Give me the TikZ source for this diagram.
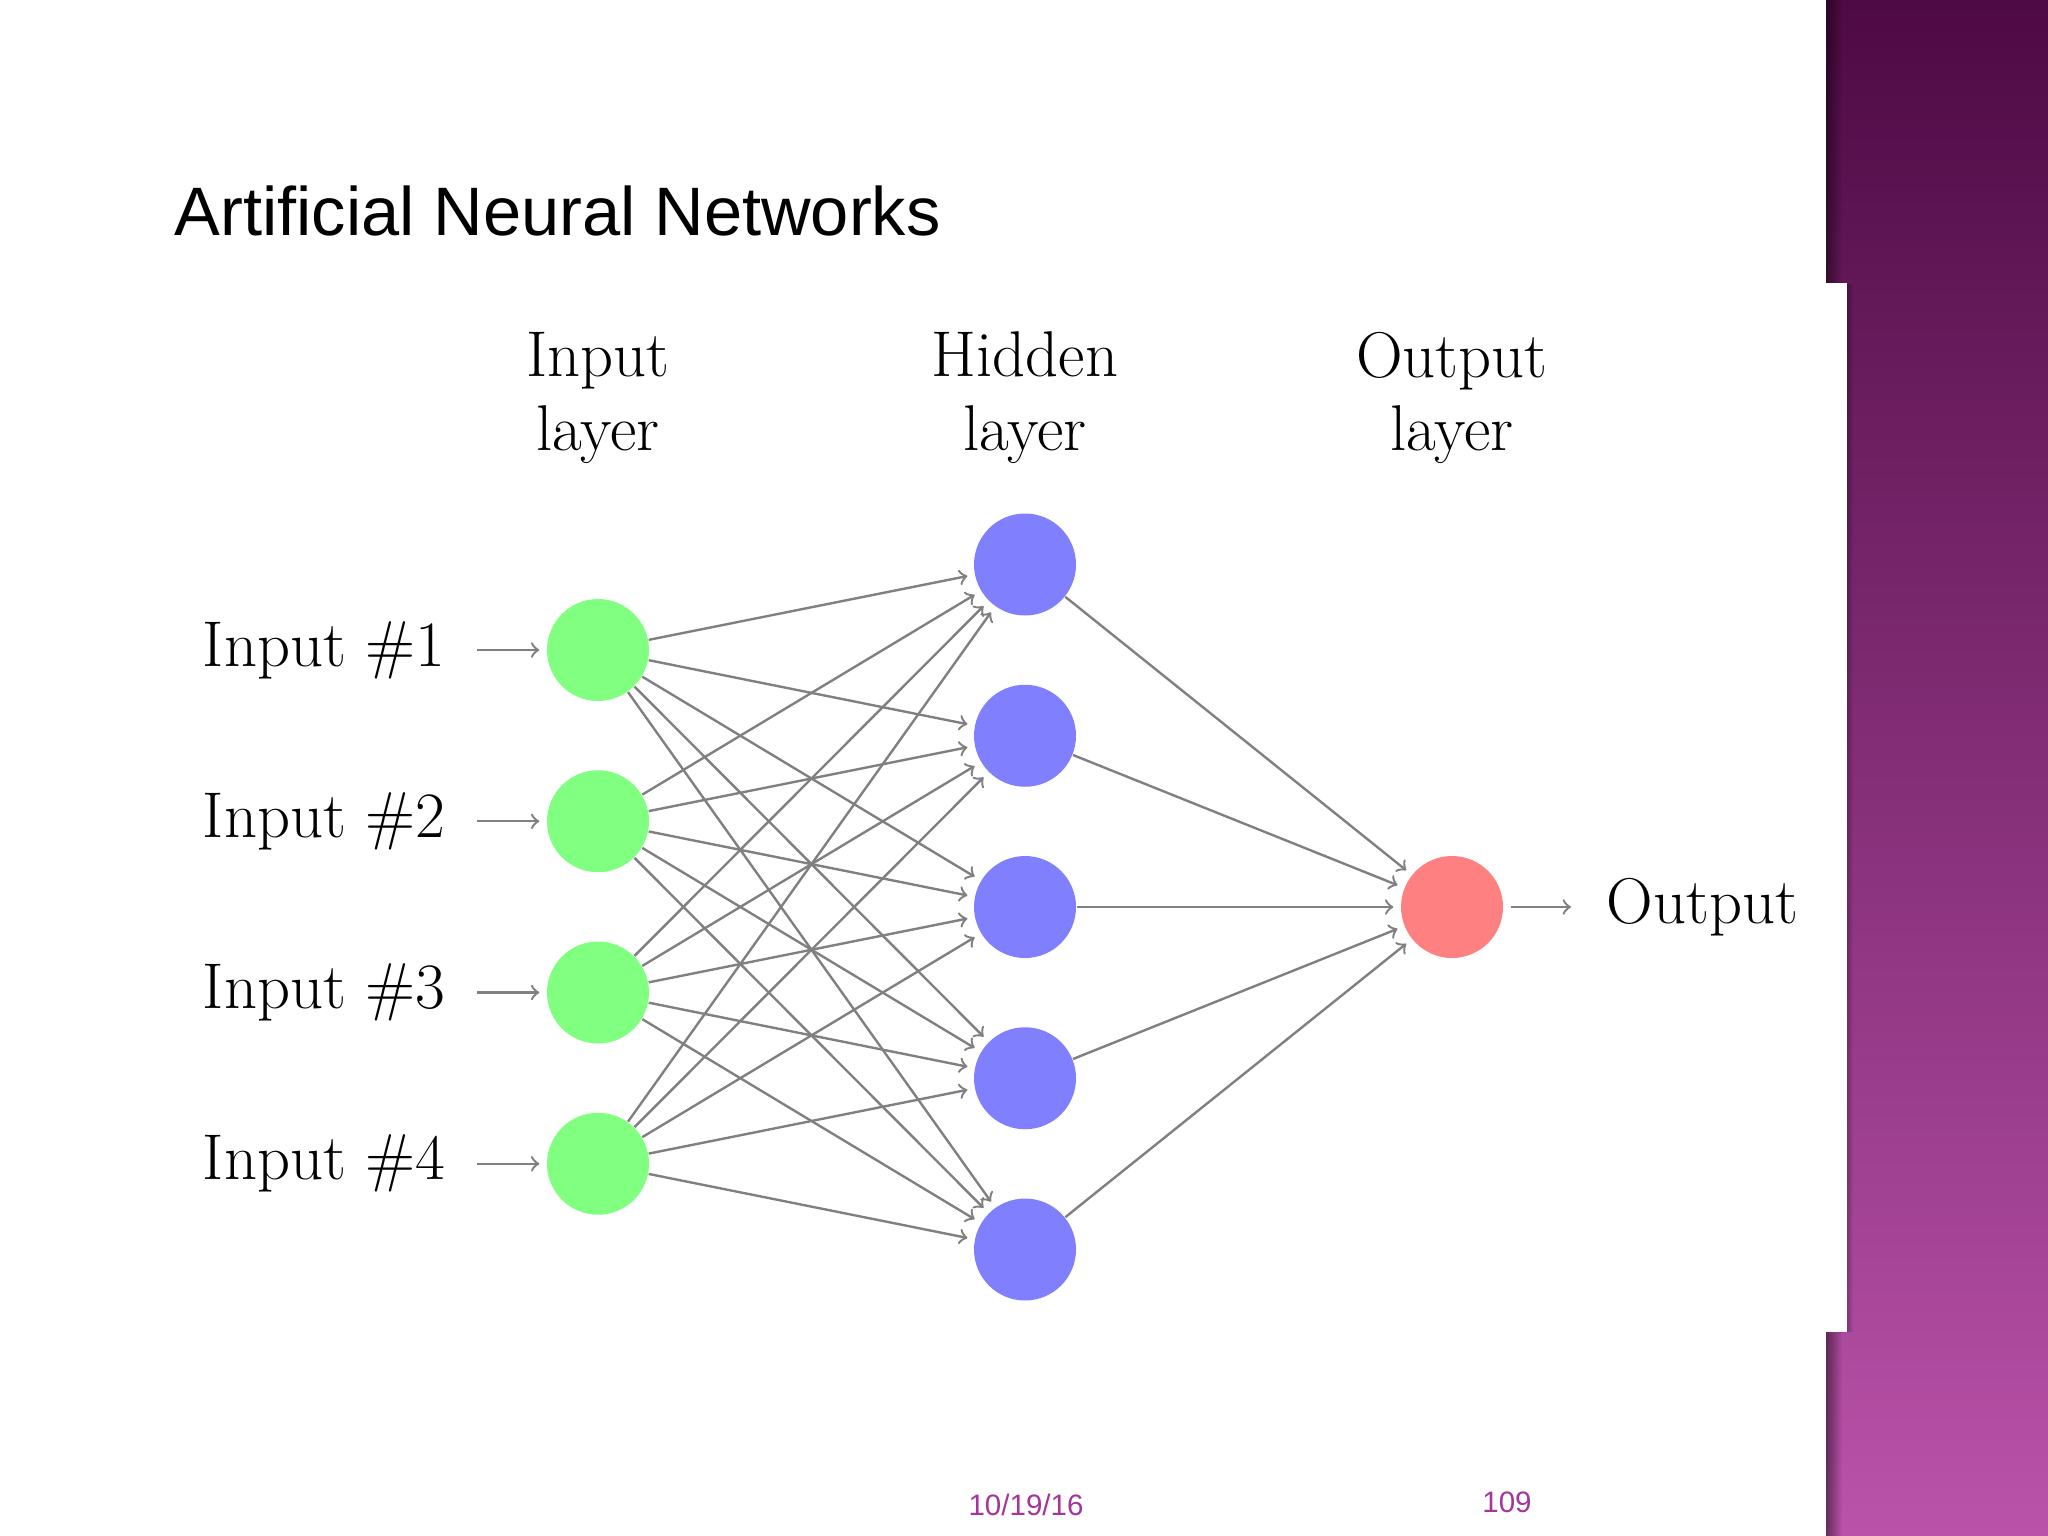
\documentclass[tikz,border=0pt]{standalone}
\usepackage{fontspec}
\newfontfamily\slidesans{Liberation Sans}
\usetikzlibrary{fadings}
\definecolor{PanelTop}{RGB}{78, 10, 68}
\definecolor{PanelMid}{RGB}{140, 56, 126}
\definecolor{PanelBottom}{RGB}{186, 82, 170}
\definecolor{FooterPurple}{RGB}{163, 53, 155}

\begin{document}
\begin{tikzpicture}[x=0.01cm, y=-0.01cm,
    neuron/.style={circle, minimum size=29pt, inner sep=0pt},
    input neuron/.style={neuron, fill=green!50},
    hidden neuron/.style={neuron, fill=blue!50},
    output neuron/.style={neuron, fill=red!50},
    synapse/.style={draw=black!50, line width=0.68pt, ->, shorten >=2pt},
    netfont/.style={font=\fontsize{18.4}{21}\selectfont},
    annot/.style={netfont, align=center, inner sep=0pt},
    footer/.style={FooterPurple, font=\slidesans\fontsize{8.4}{10}\selectfont, inner sep=0pt, anchor=base}]
      \useasboundingbox (0,0) rectangle (2048,1536);
      % Slide background
      \fill[white] (0,0) rectangle (2048,1536);
      % Side panel
      \shade[top color=PanelTop, middle color=PanelMid, bottom color=PanelBottom] (1826,0) rectangle (2048,1536);
      \fill[black, opacity=0.45, path fading=east] (1826,0) rectangle (1842,283);
      \fill[black, opacity=0.45, path fading=east] (1826,1332) rectangle (1842,1536);
      \fill[white] (1826,283) rectangle (1847,1332);
      \fill[black, opacity=0.25, path fading=east] (1847,283) rectangle (1853,1332);
      % Title
      \node[anchor=base west, inner sep=0pt, font=\slidesans\fontsize{19.5}{23}\selectfont] (title) at (174,235) {Artificial Neural Networks};
      % Input layer
      \foreach \n in {1,...,4} {
        \pgfmathsetmacro\yy{650+(\n-1)*171.25}
        \node[input neuron] (I-\n) at (598,\yy) {};
        \node[netfont, anchor=east, inner xsep=8.8pt] (in-\n) at (477,\yy) {Input \#\n};
        \draw[synapse] (in-\n) -- (I-\n);
      }
      % Hidden layer
      \foreach \n in {1,...,5} {
        \pgfmathsetmacro\yy{564.5+(\n-1)*171.25}
        \node[hidden neuron] (H-\n) at (1025,\yy) {};
      }
      % Output layer
      \node[output neuron] (O) at (1452,907) {};
      \node[netfont, anchor=west, inner xsep=8pt] (out) at (1578,907) {Output};
      \draw[synapse, shorten <=2pt] (O) -- (out);
      % Connections
      \foreach \s in {1,...,4}
        \foreach \t in {1,...,5}
          \draw[synapse] (I-\s) -- (H-\t);
      \foreach \s in {1,...,5}
        \draw[synapse] (H-\s) -- (O);
      % Layer labels
      \node[annot] (il) at (598,398) {Input\\layer};
      \node[annot] (hl) at (1025,398) {Hidden\\layer};
      \node[annot] (ol) at (1452,398) {Output\\layer};
      % Footer
      \node[footer] (date) at (1026,1515) {10/19/16};
      \node[footer] (page) at (1507,1512) {109};
    \end{tikzpicture}
\end{document}
